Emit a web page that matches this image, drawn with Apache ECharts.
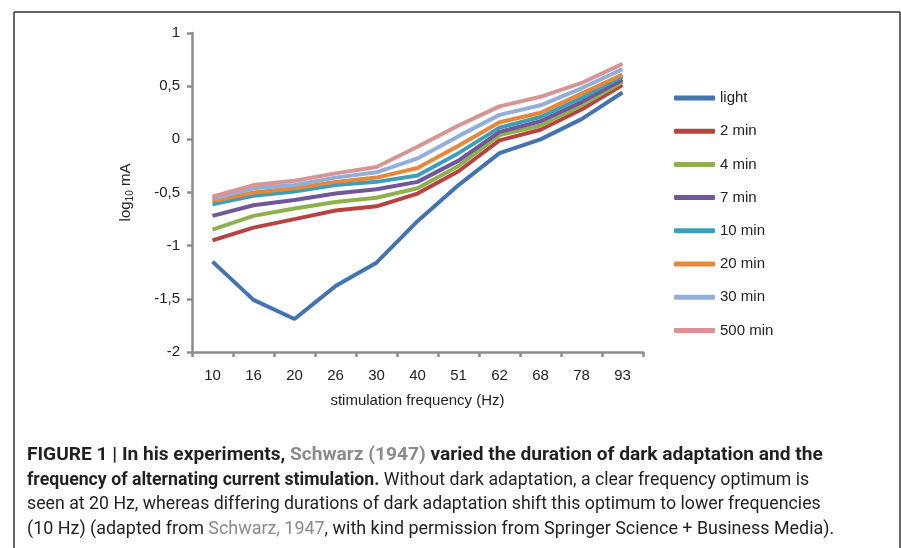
<!DOCTYPE html>
<html style="height: 100%">
 <head>
  <meta charset="utf-8" />
  <script type="text/javascript" src="https://cdn.jsdelivr.net/npm/echarts@6/dist/echarts.min.js"></script>
 </head>
 <body style="height: 100%; margin: 0; background: #fff">
  <div id="main" style="width: 901px; height: 548px;"></div>
  <script type="text/javascript">
   // stimulation frequency (Hz)
   var categories = ['10', '16', '20', '26', '30', '40', '51', '62', '68', '78', '93'];
   var seriesNames = ['light', '2 min', '4 min', '7 min', '10 min', '20 min', '30 min', '500 min'];
   var light   = [-1.15, -1.51, -1.69, -1.38, -1.16, -0.77, -0.43, -0.13, 0.00, 0.19, 0.44];
   var min2    = [-0.95, -0.83, -0.75, -0.67, -0.63, -0.51, -0.30, -0.01, 0.09, 0.28, 0.51];
   var min4    = [-0.85, -0.72, -0.65, -0.59, -0.55, -0.46, -0.25, 0.04, 0.13, 0.32, 0.54];
   var min7    = [-0.72, -0.62, -0.57, -0.51, -0.47, -0.40, -0.20, 0.07, 0.17, 0.35, 0.56];
   var min10   = [-0.61, -0.53, -0.49, -0.43, -0.40, -0.34, -0.13, 0.11, 0.21, 0.39, 0.59];
   var min20   = [-0.58, -0.50, -0.46, -0.40, -0.36, -0.27, -0.06, 0.16, 0.25, 0.43, 0.61];
   var min30   = [-0.56, -0.46, -0.43, -0.36, -0.31, -0.18, 0.03, 0.23, 0.32, 0.48, 0.66];
   var min500  = [-0.54, -0.43, -0.39, -0.32, -0.26, -0.07, 0.13, 0.31, 0.40, 0.53, 0.71];
   var colors = ['#4474B0', '#B8423F', '#8EB04F', '#71569A', '#3E9EBA', '#E6883A', '#92AEDA', '#D69494'];

   var captionLines = [
     '{b|FIGURE 1 | In his experiments, }{bg|Schwarz (1947)}{b| varied the duration of dark adaptation and the}',
     '{b|frequency of alternating current stimulation.}{n| Without dark adaptation, a clear frequency optimum is}',
     '{n|seen at 20 Hz, whereas differing durations of dark adaptation shift this optimum to lower frequencies}',
     '{n|(10 Hz) (adapted from }{g|Schwarz, 1947}{n|, with kind permission from Springer Science + Business Media).}'
   ];
   // stretch per line so the caption keeps the width of the printed one
   var captionStretch = [1.094, 1.012, 1.014, 1.024];

   var allData = [light, min2, min4, min7, min10, min20, min30, min500];

   var myChart = echarts.init(document.getElementById('main'), null, { renderer: 'canvas' });

   var axisFont = '"Liberation Sans", Arial, sans-serif';
   var capFont = 'Roboto, sans-serif';
   var graphics = [
     { type: 'line', shape: { x1: 14, y1: 12, x2: 900, y2: 12 }, style: { stroke: '#333', lineWidth: 1.5 } },
     { type: 'line', shape: { x1: 14, y1: 12, x2: 14, y2: 548 }, style: { stroke: '#333', lineWidth: 1.5 } },
     { type: 'line', shape: { x1: 900, y1: 12, x2: 900, y2: 548 }, style: { stroke: '#333', lineWidth: 1.5 } }
   ];
   captionLines.forEach(function (t, i) {
     graphics.push({
       type: 'text',
       x: 27,
       y: 447 + i * 24.5,
       scaleX: captionStretch[i],
       style: {
         text: t,
         rich: {
           b: { fontFamily: capFont, fontSize: 17.5, fontWeight: 'bold', fill: '#231f20' },
           bg: { fontFamily: capFont, fontSize: 17.5, fontWeight: 'bold', fill: '#8a8a8a' },
           n: { fontFamily: capFont, fontSize: 17.5, fill: '#231f20' },
           g: { fontFamily: capFont, fontSize: 17.5, fill: '#8a8a8a' }
         }
       }
     });
   });

   var option = {
     animation: false,
     color: colors,
     grid: { left: 192, right: 258, top: 33, bottom: 196 },
     legend: {
       orient: 'vertical',
       left: 669,
       top: 85,
       icon: 'roundRect',
       itemWidth: 41,
       itemHeight: 5,
       itemGap: 17.2,
       textStyle: { fontFamily: axisFont, fontSize: 15, color: '#222', lineHeight: 16 },
       data: seriesNames
     },
     xAxis: {
       type: 'category',
       data: categories,
       boundaryGap: true,
       name: 'stimulation frequency (Hz)',
       nameLocation: 'middle',
       nameGap: 41,
       nameTextStyle: { fontFamily: axisFont, fontSize: 15, color: '#222' },
       axisLine: { onZero: false, lineStyle: { color: '#8c8c8c', width: 2.5 } },
       axisTick: { show: true, length: 5, lineStyle: { color: '#8c8c8c', width: 2.5 } },
       axisLabel: { fontFamily: axisFont, fontSize: 15, color: '#222', margin: 16 },
       splitLine: { show: false }
     },
     yAxis: {
       type: 'value',
       min: -2,
       max: 1,
       interval: 0.5,
       name: 'log{sub|10} mA',
       nameLocation: 'middle',
       nameGap: 57,
       nameTextStyle: {
         fontFamily: axisFont, fontSize: 15, color: '#222',
         rich: { sub: { fontFamily: axisFont, fontSize: 10, color: '#222', verticalAlign: 'bottom', padding: [8, 0, 0, 0] } }
       },
       axisLine: { show: true, lineStyle: { color: '#8c8c8c', width: 2.5 } },
       axisTick: { show: true, length: 5, lineStyle: { color: '#8c8c8c', width: 2.5 } },
       axisLabel: {
         fontFamily: axisFont, fontSize: 15, color: '#222', margin: 12,
         formatter: function (v) { return String(v).replace('.', ','); }
       },
       splitLine: { show: false }
     },
     series: seriesNames.map(function (name, i) {
       return {
         name: name,
         type: 'line',
         data: allData[i],
         showSymbol: false,
         symbol: 'none',
         lineStyle: { width: 4, color: colors[i] },
         z: 2 + i
       };
     }),
     graphic: graphics
   };

   myChart.setOption(option);
  </script>
 </body>
</html>
